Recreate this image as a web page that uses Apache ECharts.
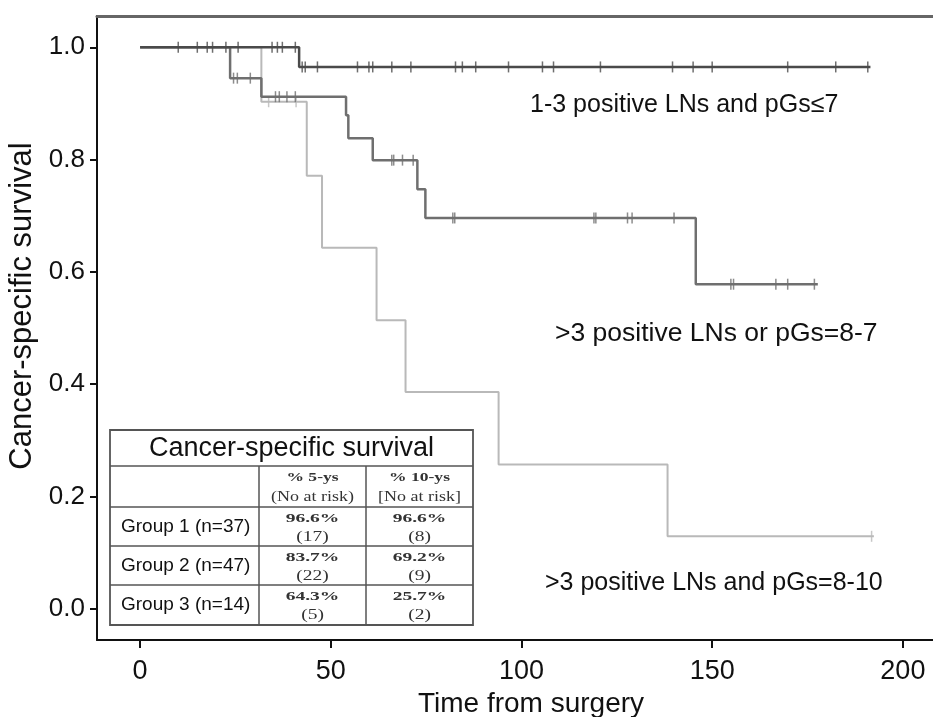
<!DOCTYPE html>
<html><head><meta charset="utf-8">
<script src="https://cdn.jsdelivr.net/npm/echarts@6/dist/echarts.min.js"></script>
<style>html,body{margin:0;padding:0;background:#fff}#c{width:933px;height:717px}</style>
</head><body><div id="c"></div>
<script>
// ---- data ----
const xTicks = [0, 50, 100, 150, 200];
const yTicks = [0, 0.2, 0.4, 0.6, 0.8, 1.0];

// Kaplan-Meier steps: [time, survival from that time on]
const group1Steps = [[0, 1], [41.7, 0.965], [191.5, 0.965]];
const group2Steps = [[0, 1], [23.6, 0.945], [31.8, 0.912], [54, 0.879], [54.6, 0.838], [61, 0.799], [72.7, 0.747], [74.8, 0.696], [145.7, 0.578], [177.7, 0.578]];
const group3Steps = [[0, 1], [31.8, 0.903], [43.7, 0.771], [47.7, 0.643], [62, 0.514], [69.6, 0.386], [94, 0.257], [138.3, 0.129], [192.4, 0.129]];

// censoring times
const group1Censor = [10, 15, 17.6, 19, 22.5, 25.7, 34.6, 36, 37.3, 40.7, 42.5, 43.3, 46.5, 57, 60, 61, 66, 71, 82.7, 84.5, 88, 96.6, 105.5, 108.4, 120.7, 139.6, 145, 150, 169.8, 182.4, 190.8];
const group2Censor = [24.5, 25.5, 28.9, 35.5, 36.5, 38.5, 40.7, 66, 66.5, 68.8, 71.6, 82, 82.5, 119, 119.5, 127.8, 129, 140, 154.9, 155.6, 166.7, 169.8, 176.8];
const group3Censor = [33.7, 40.9, 191.8];

const curveLabels = ["1-3 positive LNs and pGs\u22647", ">3 positive LNs or pGs=8-7", ">3 positive LNs and pGs=8-10"];

const tableTitle = "Cancer-specific survival";
const tableHeader5 = ["% 5-ys", "(No at risk)"];
const tableHeader10 = ["% 10-ys", "[No at risk]"];
const tableGroups = ["Group 1 (n=37)", "Group 2 (n=47)", "Group 3 (n=14)"];
const surv5y = ["96.6%", "83.7%", "64.3%"];
const risk5y = ["(17)", "(22)", "(5)"];
const surv10y = ["96.6%", "69.2%", "25.7%"];
const risk10y = ["(8)", "(9)", "(2)"];

// ---- helpers ----
function stepAt(steps, t) {
  let v = steps[0][1];
  for (const s of steps) { if (s[0] <= t) v = s[1]; }
  return v;
}
const colors = ['#4a4a4a', '#6f6f6f', '#b9b9b9'];
const FONT = 'Liberation Sans, Arial, sans-serif';
const SERIF = 'Liberation Serif, Times New Roman, serif';

function lineSeries(name, steps, color, w, z) {
  return { name, type: 'line', step: 'end', data: steps, showSymbol: false, z,
    lineStyle: { color, width: w }, animation: false };
}
function censorSeries(name, steps, times, color, z) {
  return { name: name + ' censored', type: 'scatter', data: times.map(t => [t, stepAt(steps, t)]),
    symbol: 'rect', symbolSize: [1.5, 11], itemStyle: { color }, z, animation: false };
}

// ---- table graphic ----
const T = { left: 110, top: 430, right: 473, rows: [466, 507, 546, 585, 625], c1: 259, c2: 366 };
const tStroke = { stroke: '#555', lineWidth: 1.5 };
const tableEls = [];
tableEls.push({ type: 'rect', shape: { x: T.left, y: T.top, width: T.right - T.left, height: T.rows[4] - T.top },
  style: { fill: '#fff', stroke: '#555', lineWidth: 1.8 } });
T.rows.slice(0, 4).forEach(y => tableEls.push({ type: 'line', shape: { x1: T.left, y1: y, x2: T.right, y2: y }, style: tStroke }));
[T.c1, T.c2].forEach(x => tableEls.push({ type: 'line', shape: { x1: x, y1: T.rows[0], x2: x, y2: T.rows[4] }, style: tStroke }));
tableEls.push({ type: 'text', x: (T.left + T.right) / 2, y: (T.top + T.rows[0]) / 2 + 1,
  style: { text: tableTitle, font: '27px ' + FONT, fill: '#111', align: 'center', verticalAlign: 'middle' } });
const cx1 = (T.c1 + T.c2) / 2, cx2 = (T.c2 + T.right) / 2;
[[cx1, tableHeader5], [cx2, tableHeader10]].forEach(([cx, h]) => {
  tableEls.push({ type: 'text', x: cx, y: 478, scaleX: 1.35, style: { text: h[0], font: 'bold 13px ' + SERIF, fill: '#333', align: 'center', verticalAlign: 'middle' } });
  tableEls.push({ type: 'text', x: cx, y: 497, scaleX: 1.2, style: { text: h[1], font: '15px ' + SERIF, fill: '#333', align: 'center', verticalAlign: 'middle' } });
});
tableGroups.forEach((g, i) => {
  const top = T.rows[i + 1], bot = T.rows[i + 2], mid = (top + bot) / 2;
  tableEls.push({ type: 'text', x: 121, y: mid, style: { text: g, font: '19px ' + FONT, fill: '#111', align: 'left', verticalAlign: 'middle' } });
  tableEls.push({ type: 'text', x: cx1, y: top + 12, scaleX: 1.5, style: { text: surv5y[i], font: 'bold 13px ' + SERIF, fill: '#333', align: 'center', verticalAlign: 'middle' } });
  tableEls.push({ type: 'text', x: cx1, y: top + 30, scaleX: 1.3, style: { text: risk5y[i], font: '15px ' + SERIF, fill: '#333', align: 'center', verticalAlign: 'middle' } });
  tableEls.push({ type: 'text', x: cx2, y: top + 12, scaleX: 1.5, style: { text: surv10y[i], font: 'bold 13px ' + SERIF, fill: '#333', align: 'center', verticalAlign: 'middle' } });
  tableEls.push({ type: 'text', x: cx2, y: top + 30, scaleX: 1.3, style: { text: risk10y[i], font: '15px ' + SERIF, fill: '#333', align: 'center', verticalAlign: 'middle' } });
});

const chart = echarts.init(document.getElementById('c'), null, { renderer: 'canvas' });
chart.setOption({
  animation: false,
  backgroundColor: '#fff',
  grid: { left: 97, right: 0, top: 16, bottom: 77, containLabel: false },
  xAxis: [{
    type: 'value', min: -11.3, max: 207.9, splitLine: { show: false },
    axisLine: { show: true, onZero: false, lineStyle: { color: '#111', width: 2 } },
    axisTick: { show: true, length: 8, lineStyle: { color: '#111', width: 2 }, customValues: xTicks },
    axisLabel: { customValues: xTicks, color: '#111', fontSize: 27, fontFamily: FONT, margin: 18 }
  }, {
    type: 'value', position: 'top', min: -11.3, max: 207.9, splitLine: { show: false },
    axisLine: { show: true, onZero: false, lineStyle: { color: '#666', width: 3 } },
    axisTick: { show: false }, axisLabel: { show: false }
  }],
  yAxis: {
    type: 'value', min: -0.0557, max: 1.0557, splitLine: { show: false },
    axisLine: { show: true, onZero: false, lineStyle: { color: '#111', width: 2 } },
    axisTick: { show: true, length: 7, lineStyle: { color: '#111', width: 2 }, customValues: yTicks },
    axisLabel: { customValues: yTicks, formatter: v => v.toFixed(1), color: '#111', fontSize: 26, fontFamily: FONT, margin: 12 }
  },
  series: [
    lineSeries('Group 3', group3Steps, colors[2], 2, 2),
    censorSeries('Group 3', group3Steps, group3Censor, colors[2], 2),
    lineSeries('Group 2', group2Steps, colors[1], 2.5, 3),
    censorSeries('Group 2', group2Steps, group2Censor, colors[1], 3),
    lineSeries('Group 1', group1Steps, colors[0], 2.5, 4),
    censorSeries('Group 1', group1Steps, group1Censor, colors[0], 4)
  ],
  graphic: [
    { type: 'text', x: 531, y: 704, style: { text: 'Time from surgery', font: '28px ' + FONT, fill: '#111', align: 'center', verticalAlign: 'middle' } },
    { type: 'text', x: 22, y: 306, rotation: Math.PI / 2, style: { text: 'Cancer-specific survival', font: '31px ' + FONT, fill: '#111', align: 'center', verticalAlign: 'middle' } },
    { type: 'text', x: 530, y: 105, style: { text: curveLabels[0], font: '25px ' + FONT, fill: '#111', align: 'left', verticalAlign: 'middle' } },
    { type: 'text', x: 555, y: 334, style: { text: curveLabels[1], font: '26.5px ' + FONT, fill: '#111', align: 'left', verticalAlign: 'middle' } },
    { type: 'text', x: 545, y: 583, style: { text: curveLabels[2], font: '25px ' + FONT, fill: '#111', align: 'left', verticalAlign: 'middle' } },
    { type: 'group', children: tableEls }
  ]
});
</script></body></html>
